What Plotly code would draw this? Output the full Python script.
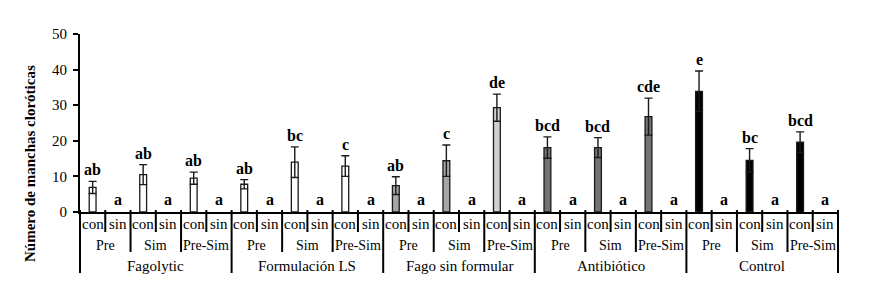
import plotly.graph_objects as go

groups = ["Fagolytic", "Formulación LS", "Fago sin formular", "Antibiótico", "Control"]
timings = ["Pre", "Sim", "Pre-Sim"]
states = ["con", "sin"]

# values for "con" bars (per group, per timing); "sin" bars are 0
con_values = [
    [6.9, 10.5, 9.5],
    [7.8, 14.0, 12.9],
    [7.4, 14.4, 29.3],
    [18.1, 18.1, 26.8],
    [33.9, 14.5, 19.6],
]
con_errors = [
    [1.7, 2.8, 1.7],
    [1.3, 4.3, 2.9],
    [2.5, 4.4, 3.8],
    [3.0, 2.8, 5.2],
    [5.7, 3.3, 2.9],
]
con_letters = [
    ["ab", "ab", "ab"],
    ["ab", "bc", "c"],
    ["ab", "c", "de"],
    ["bcd", "bcd", "cde"],
    ["e", "bc", "bcd"],
]
sin_values = [[0, 0, 0]] * 5
sin_letters = [["a", "a", "a"]] * 5

group_colors = [
    ["#ffffff", "#ffffff", "#ffffff"],
    ["#ffffff", "#ffffff", "#ffffff"],
    ["#a6a6a6", "#a6a6a6", "#d0d0d0"],
    ["#737373", "#737373", "#737373"],
    ["#000000", "#000000", "#000000"],
]

cx, cy, ce, cl, cc = [], [], [], [], []
sx, sy, sl = [], [], []
i = 0
for g in range(len(groups)):
    for t in range(len(timings)):
        cx.append(i); cy.append(con_values[g][t]); ce.append(con_errors[g][t])
        cl.append(con_letters[g][t]); cc.append(group_colors[g][t])
        sx.append(i + 1); sy.append(sin_values[g][t]); sl.append(sin_letters[g][t])
        i += 2
N = i

SERIF = "Liberation Serif, Times New Roman, serif"

fig = go.Figure()
fig.add_trace(go.Bar(
    x=cx, y=cy, width=0.27, name="con",
    marker=dict(color=cc, line=dict(color="#1a1a1a", width=1.3)),
    error_y=dict(type="data", array=ce, visible=True, color="#1a1a1a",
                 thickness=1.4, width=4),
    hoverinfo="skip",
))
fig.add_trace(go.Bar(
    x=sx, y=sy, width=0.27, name="sin",
    marker=dict(color="white", line=dict(width=0)),
    hoverinfo="skip",
))

ann = []
for x, y, e, l in zip(cx, cy, ce, cl):
    ann.append(dict(x=x, y=y + e, xref="x", yref="y", text=f"<b>{l}</b>",
                    showarrow=False, yanchor="bottom", yshift=1,
                    font=dict(family=SERIF, size=16, color="black")))
for x, y, l in zip(sx, sy, sl):
    ann.append(dict(x=x, y=y, xref="x", yref="y", text=f"<b>{l}</b>",
                    showarrow=False, yanchor="bottom", yshift=2,
                    font=dict(family=SERIF, size=16, color="black")))

# hierarchical category labels
PH = 178.0
def py(px):
    return -px / PH
for k in range(N):
    ann.append(dict(x=k, y=0, xref="x", yref="paper", text=states[k % 2],
                    showarrow=False, yanchor="middle", yshift=-12,
                    font=dict(family=SERIF, size=15, color="black")))
for k in range(len(groups) * len(timings)):
    ann.append(dict(x=2 * k + 0.5, y=0, xref="x", yref="paper",
                    text=timings[k % 3], showarrow=False, yanchor="middle",
                    yshift=-33, font=dict(family=SERIF, size=14, color="black")))
for g in range(len(groups)):
    ann.append(dict(x=6 * g + 2.5, y=0, xref="x", yref="paper", text=groups[g],
                    showarrow=False, yanchor="middle", yshift=-54,
                    font=dict(family=SERIF, size=15, color="black")))

ann.append(dict(x=-0.066, y=0.275, xref="paper", yref="paper",
                text="<b>Número de manchas cloróticas</b>", textangle=-90,
                showarrow=False, xanchor="center", yanchor="middle",
                font=dict(family=SERIF, size=15, color="black")))

shapes = []
for b in range(N + 1):
    if b % 6 == 0:
        depth = 61
    elif b % 2 == 0:
        depth = 40
    else:
        depth = 20
    fx = b / N
    shapes.append(dict(type="line", xref="paper", yref="paper", x0=fx, x1=fx,
                       y0=2 / PH, y1=py(depth), line=dict(color="black", width=2)))

# page body has an 8px margin: size/margins compensate so plot lands in place
fig.update_layout(
    width=884, height=287,
    margin=dict(l=72, r=54, t=26, b=83),
    plot_bgcolor="white", paper_bgcolor="white",
    showlegend=False, barmode="overlay",
    font=dict(family=SERIF),
    annotations=ann, shapes=shapes,
    xaxis=dict(range=[-0.5, N - 0.5], showticklabels=False, showgrid=False,
               zeroline=False, showline=True, linecolor="black", linewidth=2,
               ticks=""),
    yaxis=dict(range=[0, 50], dtick=10, showgrid=False, zeroline=False,
               showline=True, linecolor="black", linewidth=2,
               ticks="outside", ticklen=5, tickwidth=1.5, tickcolor="black",
               ticklabelstandoff=3,
               tickfont=dict(family=SERIF, size=15, color="black")),
)

fig.write_html("out.html")
